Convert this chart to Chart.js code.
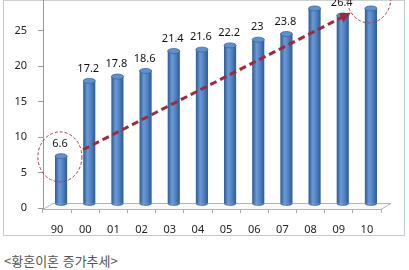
<!DOCTYPE html>
<html lang="ko">
<head>
<meta charset="utf-8">
<script src="https://cdn.jsdelivr.net/npm/chart.js@4"></script>
<style>
  html, body { margin: 0; padding: 0; background: #fff; }
  #wrap { position: relative; width: 409px; height: 270px; overflow: hidden; }
  #frame { position: absolute; left: 3px; top: 0; width: 400px; height: 234px;
           border: 1px solid #b7cbdc; border-top-color: #d0d0d0; }
  #chart { position: absolute; left: 0; top: -25px; }
  #caption { position: absolute; left: 4px; top: 252px; line-height: 17px;
             font-size: 13px; font-family: "Noto Sans CJK KR", sans-serif; color: #555; }
</style>
</head>
<body>
<div id="wrap">
  <div id="frame"></div>
  <canvas id="chart" width="409" height="262"></canvas>
  <div id="caption">&lt;황혼이혼 증가추세&gt;</div>
</div>
<script>
// 연도별 황혼이혼 비율
const years = ['90', '00', '01', '02', '03', '04', '05', '06', '07', '08', '09', '10'];
const ratios = [6.6, 17.2, 17.8, 18.6, 21.4, 21.6, 22.2, 23, 23.8, 27.4, 26.4, 27.4];
const yTicks = [0, 5, 10, 15, 20, 25];

// 추세 화살표와 점선 원 (x = 항목 위치, y = 값)
const trendFrom = [0.92, 8.2];
const trendTo = [10.43, 27.5];
const circleMarks = [[0.1, 7.2], [11.07, 29.6]];

(function() {
  const FONT = '"Noto Sans", sans-serif';
  const DEPTH_X = 4, DEPTH_Y = -5; // 3D 막대 느낌을 위한 이동

  // 바닥면 그리기
  function drawFloor(chart) {
    const { ctx, chartArea, scales } = chart;
    const y0 = scales.y.getPixelForValue(0) + 1;
    ctx.save();
    ctx.strokeStyle = '#b5b5b5';
    ctx.fillStyle = '#fafafa';
    ctx.lineWidth = 1;
    ctx.beginPath();
    ctx.moveTo(chartArea.left, y0 + 0.5);
    ctx.lineTo(chartArea.right, y0 + 0.5);
    ctx.lineTo(chartArea.right + 10, y0 - 5.5);
    ctx.lineTo(chartArea.left + 10, y0 - 5.5);
    ctx.closePath();
    ctx.fill();
    ctx.stroke();
    ctx.restore();
  }

  // 원기둥 막대
  function drawCylinders(chart) {
    const { ctx } = chart;
    const meta = chart.getDatasetMeta(0);
    ctx.save();
    meta.data.forEach(function(el) {
      const w = el.width;
      const cx = el.x + DEPTH_X;
      const top = el.y + DEPTH_Y;
      const bottom = el.base + DEPTH_Y + 1;
      const rx = w / 2, ry = 2.5;
      const g = ctx.createLinearGradient(cx - rx, 0, cx + rx, 0);
      g.addColorStop(0, '#2b5891');
      g.addColorStop(0.35, '#6a9ad5');
      g.addColorStop(0.6, '#5586c5');
      g.addColorStop(1, '#2d5a93');
      ctx.fillStyle = g;
      ctx.fillRect(cx - rx, top, w, bottom - top);
      ctx.beginPath();
      ctx.ellipse(cx, bottom, rx, ry, 0, 0, Math.PI);
      ctx.fill();
      // 윗면
      ctx.beginPath();
      ctx.ellipse(cx, top, rx, ry, 0, 0, Math.PI * 2);
      ctx.fillStyle = '#5f90cf';
      ctx.fill();
      ctx.strokeStyle = '#3b679f';
      ctx.lineWidth = 0.8;
      ctx.stroke();
    });
    ctx.restore();
  }

  // 값 라벨
  function drawValues(chart) {
    const { ctx } = chart;
    const meta = chart.getDatasetMeta(0);
    ctx.save();
    ctx.font = '11px ' + FONT;
    ctx.fillStyle = '#111';
    ctx.textAlign = 'center';
    ctx.textBaseline = 'middle';
    meta.data.forEach(function(el, i) {
      ctx.fillText(String(ratios[i]), el.x + 3, el.y - 17.5);
    });
    ctx.restore();
  }

  // 점선 추세 화살표
  function drawTrend(chart) {
    const { ctx, scales } = chart;
    const x1 = scales.x.getPixelForValue(trendFrom[0]);
    const y1 = scales.y.getPixelForValue(trendFrom[1]);
    const x2 = scales.x.getPixelForValue(trendTo[0]);
    const y2 = scales.y.getPixelForValue(trendTo[1]);
    const ang = Math.atan2(y2 - y1, x2 - x1);
    const head = 11;
    ctx.save();
    ctx.strokeStyle = '#9e2a3b';
    ctx.fillStyle = '#9e2a3b';
    ctx.lineWidth = 3;
    ctx.setLineDash([7, 4]);
    ctx.beginPath();
    ctx.moveTo(x1, y1);
    ctx.lineTo(x2 - Math.cos(ang) * head * 0.8, y2 - Math.sin(ang) * head * 0.8);
    ctx.stroke();
    ctx.setLineDash([]);
    ctx.beginPath();
    ctx.moveTo(x2, y2);
    ctx.lineTo(x2 - Math.cos(ang) * head + Math.sin(ang) * 5, y2 - Math.sin(ang) * head - Math.cos(ang) * 5);
    ctx.lineTo(x2 - Math.cos(ang) * head - Math.sin(ang) * 5, y2 - Math.sin(ang) * head + Math.cos(ang) * 5);
    ctx.closePath();
    ctx.fill();
    ctx.restore();
  }

  // 점선 원
  function drawCircles(chart) {
    const { ctx, scales } = chart;
    ctx.save();
    ctx.strokeStyle = '#a3394b';
    ctx.lineWidth = 1;
    ctx.setLineDash([3, 2]);
    circleMarks.forEach(function(m) {
      const cx = scales.x.getPixelForValue(m[0]);
      const cy = scales.y.getPixelForValue(m[1]);
      ctx.beginPath();
      ctx.ellipse(cx, cy, 22, 25, 0, 0, Math.PI * 2);
      ctx.stroke();
    });
    ctx.restore();
  }

  const decorPlugin = {
    id: 'decor',
    beforeDatasetsDraw: function(chart) { drawFloor(chart); },
    afterDatasetsDraw: function(chart) {
      drawCylinders(chart);
      drawValues(chart);
      drawTrend(chart);
      drawCircles(chart);
    }
  };

  new Chart(document.getElementById('chart'), {
    type: 'bar',
    data: {
      labels: years,
      datasets: [{
        label: '황혼이혼 비율',
        data: ratios,
        backgroundColor: 'rgba(0,0,0,0)',
        borderWidth: 0,
        categoryPercentage: 1,
        barPercentage: 0.43
      }]
    },
    options: {
      responsive: false,
      animation: false,
      events: [],
      layout: { padding: { top: 20, right: 28, bottom: 0, left: 0 } },
      plugins: {
        legend: { display: false },
        title: { display: false },
        tooltip: { enabled: false }
      },
      scales: {
        x: {
          border: { display: false },
          grid: { drawOnChartArea: false, tickLength: 5, color: '#a8a8a8' },
          ticks: { font: { family: FONT, size: 11 }, color: '#222', padding: 10, maxRotation: 0 },
          afterFit: function(scale) { scale.height = 29; }
        },
        y: {
          min: 0,
          max: 30,
          border: { color: '#999' },
          grid: { drawOnChartArea: false, tickLength: 5, color: '#999' },
          ticks: { font: { family: FONT, size: 11 }, color: '#222', padding: 11 },
          afterBuildTicks: function(scale) {
            scale.ticks = yTicks.map(function(v) { return { value: v }; });
          },
          afterFit: function(scale) { scale.width = 43; }
        }
      }
    },
    plugins: [decorPlugin]
  });
})();
</script>
</body>
</html>
